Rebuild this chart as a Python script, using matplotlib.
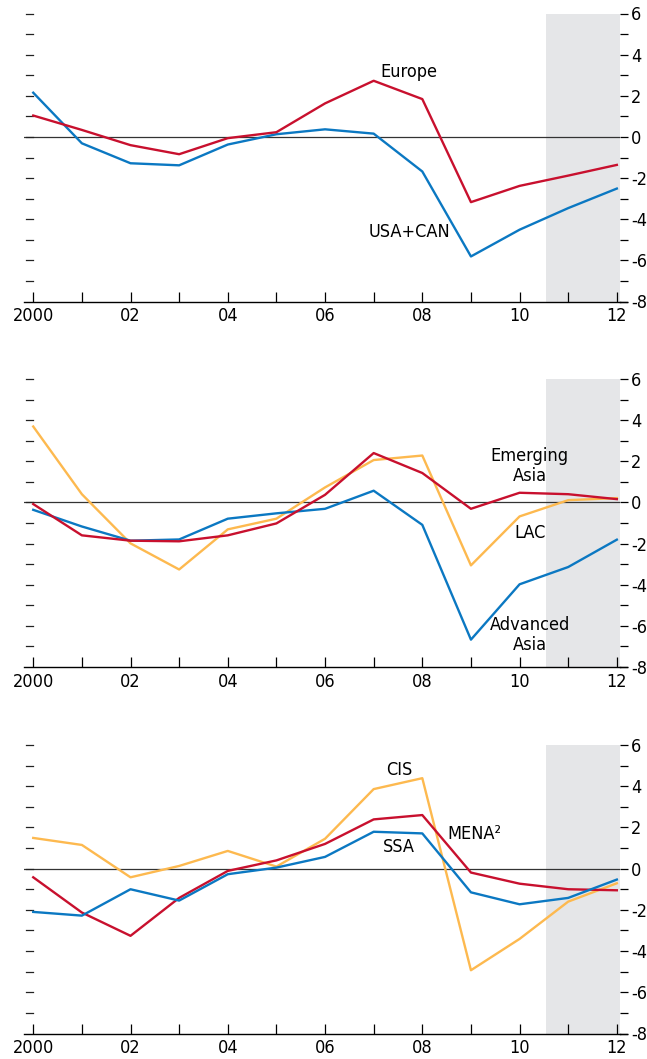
import matplotlib
matplotlib.use("Agg")
import matplotlib.pyplot as plt
from matplotlib.lines import Line2D

plt.rcParams['font.family'] = ['DejaVu Sans']
plt.rcParams['font.stretch'] = 'condensed'

years = list(range(2000, 2013))

# panel 1
europe = [1.04, 0.34, -0.40, -0.84, -0.06, 0.23, 1.63, 2.73, 1.84, -3.17, -2.38, -1.88, -1.36]
usa_can = [2.15, -0.31, -1.28, -1.38, -0.37, 0.13, 0.37, 0.16, -1.68, -5.81, -4.51, -3.46, -2.51]

# panel 2
lac = [3.69, 0.40, -1.99, -3.26, -1.31, -0.79, 0.73, 2.06, 2.28, -3.06, -0.68, 0.11, 0.21]
emerging_asia = [-0.08, -1.60, -1.86, -1.89, -1.60, -1.02, 0.37, 2.40, 1.43, -0.31, 0.47, 0.40, 0.16]
advanced_asia = [-0.36, -1.17, -1.86, -1.80, -0.79, -0.53, -0.31, 0.57, -1.09, -6.67, -3.98, -3.14, -1.81]

# panel 3
cis = [1.49, 1.15, -0.42, 0.13, 0.86, 0.10, 1.45, 3.86, 4.39, -4.93, -3.41, -1.60, -0.71]
mena = [-0.42, -2.13, -3.26, -1.42, -0.11, 0.40, 1.20, 2.39, 2.60, -0.19, -0.73, -1.00, -1.05]
ssa = [-2.10, -2.28, -1.00, -1.55, -0.27, 0.05, 0.57, 1.79, 1.71, -1.15, -1.73, -1.42, -0.53]

x_labels = ["2000", "", "02", "", "04", "", "06", "", "08", "", "10", "", "12"]
y_ticks = list(range(-8, 7))
y_labels = [str(v) if v % 2 == 0 else "" for v in y_ticks]

RED = "#C8102E"
BLUE = "#0B78C2"
ORANGE = "#FDB94F"
SHADE = "#E5E6E8"
FS = 13

W, H = 647, 1059
fig = plt.figure(figsize=(W / 100, H / 100), dpi=100)

# axes boxes in pixels: (top, bottom)
boxes = [(13.5, 301.5), (379, 667), (745, 1033.5)]
left_px, right_px = 24, 620


def setup(ax):
    ax.set_xlim(1999.81, 2012.065)
    ax.set_ylim(-8, 6)
    ax.axvspan(2010.54, 2012.2, color=SHADE, zorder=0, lw=0)
    ax.axhline(0, color="#333333", lw=0.9, zorder=1)
    for s in ["left", "top", "right"]:
        ax.spines[s].set_visible(False)
    ax.spines["bottom"].set_linewidth(1.0)
    # extend bottom line under right ticks
    ax.add_line(Line2D([1.0, 1.012], [0, 0], transform=ax.transAxes,
                       color="black", lw=1.0, clip_on=False))
    ax.set_xticks(years)
    ax.set_xticklabels(x_labels, fontsize=FS)
    ax.tick_params(axis="x", direction="in", length=7, width=0.9, pad=4)
    ax.set_yticks(y_ticks)
    ax.set_yticklabels(y_labels, fontsize=FS)
    ax.tick_params(axis="y", left=False, right=True, labelleft=False,
                   labelright=True, direction="out", length=6, width=0.9, pad=2)
    # left dashes inside the axes
    for v in y_ticks[1:]:
        ax.plot([0.004, 0.015], [v, v], transform=ax.get_yaxis_transform(),
                color="#222222", lw=0.9, clip_on=False)


axes = []
for top, bottom in boxes:
    ax = fig.add_axes([left_px / W, 1 - bottom / H, (right_px - left_px) / W, (bottom - top) / H])
    setup(ax)
    axes.append(ax)

lw = 1.7
ax1, ax2, ax3 = axes

ax1.plot(years, usa_can, color=BLUE, lw=lw, zorder=3)
ax1.plot(years, europe, color=RED, lw=lw, zorder=3)
ax1.text(2007.73, 3.14, "Europe", ha="center", va="center", fontsize=FS)
ax1.text(2007.73, -4.63, "USA+CAN", ha="center", va="center", fontsize=FS)

ax2.plot(years, lac, color=ORANGE, lw=lw, zorder=3)
ax2.plot(years, advanced_asia, color=BLUE, lw=lw, zorder=3)
ax2.plot(years, emerging_asia, color=RED, lw=lw, zorder=3)
ax2.text(2010.21, 1.78, "Emerging\nAsia", ha="center", va="center", fontsize=FS, linespacing=1.15)
ax2.text(2010.21, -1.47, "LAC", ha="center", va="center", fontsize=FS)
ax2.text(2010.21, -6.43, "Advanced\nAsia", ha="center", va="center", fontsize=FS, linespacing=1.15)

ax3.plot(years, cis, color=ORANGE, lw=lw, zorder=3)
ax3.plot(years, mena, color=RED, lw=lw, zorder=3)
ax3.plot(years, ssa, color=BLUE, lw=lw, zorder=3)
ax3.text(2007.52, 4.81, "CIS", ha="center", va="center", fontsize=FS)
ax3.text(2009.07, 1.66, "MENA²", ha="center", va="center", fontsize=FS)
ax3.text(2007.52, 1.07, "SSA", ha="center", va="center", fontsize=FS)

fig.savefig("out.png", dpi=100)
